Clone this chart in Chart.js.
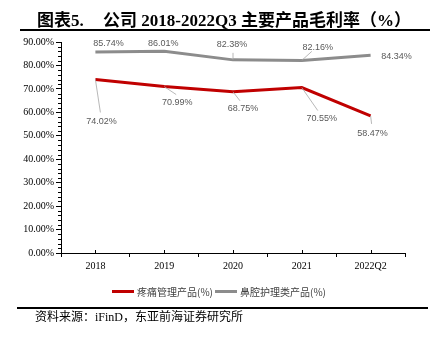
<!DOCTYPE html>
<html>
<head>
<meta charset="utf-8">
<script src="https://cdn.jsdelivr.net/npm/chart.js@4"></script>
<style>
  html, body { margin: 0; padding: 0; background: #fff; }
  #wrap { position: relative; width: 439px; height: 337px; overflow: hidden; background: #fff; }
  #c { position: absolute; left: 0; top: 0; }
  .t { position: absolute; white-space: nowrap; color: #000; }
  .title { font-family: "Liberation Serif", "Noto Sans CJK SC", serif; font-weight: bold; font-size: 17px; top: 6px; }
  .rule { position: absolute; background: #000; height: 1.5px; }
  .src { font-family: "Liberation Serif", "Noto Sans CJK SC", serif; font-size: 12px; left: 35px; top: 307px; }
  .lg-line { position: absolute; height: 3px; width: 22px; top: 290px; }
  .lg-text { position: absolute; font-family: "Noto Sans CJK SC", sans-serif; font-size: 10px; color: #404040; top: 284px; }
</style>
</head>
<body>
<div id="wrap">
  <canvas id="c" width="439" height="337"></canvas>
  <div class="t title" style="left:37px;">图表5.</div>
  <div class="t title" style="left:103px;">公司 2018-2022Q3 主要产品毛利率（%）</div>
  <div class="rule" style="left:20px; top:29px; width:410px;"></div>
  <div class="lg-line" style="left:112px; background:#C00000;"></div>
  <div class="lg-text" style="left:137px;" id="lg1"></div>
  <div class="lg-line" style="left:215px; background:#8C8C8C;"></div>
  <div class="lg-text" style="left:240px;" id="lg2"></div>
  <div class="rule" style="left:17px; top:307px; width:411px;"></div>
  <div class="t src">资料来源：iFinD，东亚前海证券研究所</div>
</div>
<script>
// ---- data ----
const categories = ['2018', '2019', '2020', '2021', '2022Q2'];
const painSeries = [74.02, 70.99, 68.75, 70.55, 58.47];
const nasalSeries = [85.74, 86.01, 82.38, 82.16, 84.34];
const seriesNames = ['疼痛管理产品(%)', '鼻腔护理类产品(%)'];
const yTickLabels = ['0.00%', '10.00%', '20.00%', '30.00%', '40.00%', '50.00%', '60.00%', '70.00%', '80.00%', '90.00%'];

document.getElementById('lg1').textContent = seriesNames[0];
document.getElementById('lg2').textContent = seriesNames[1];

// label placement styles (offsets from the point: label centre, leader end)
const labelStyle = [
  [ {dx:6, dy:42, lx:5, ly:33}, {dx:13, dy:16, lx:12, ly:8}, {dx:10, dy:17, lx:7, ly:9}, {dx:20, dy:31, lx:16, ly:23}, {dx:2, dy:18, lx:1, ly:8} ],
  [ {dx:13, dy:-8}, {dx:-1, dy:-8}, {dx:-1, dy:-15, lx:0, ly:-7}, {dx:16, dy:-13, lx:10, ly:-9}, {dx:26, dy:1} ]
];

const decor = {
  id: 'decor',
  afterDraw(chart) {
    const ctx = chart.ctx, x = chart.scales.x, y = chart.scales.y;
    ctx.save();
    ctx.strokeStyle = '#000';
    ctx.lineWidth = 1;
    ctx.beginPath();
    for (let v = 0; v <= 90; v += 2) {
      if (v % 10 === 0) continue;
      const py = Math.round(y.getPixelForValue(v)) + 0.5;
      ctx.moveTo(x.left - 3, py); ctx.lineTo(x.left, py);
    }
    categories.forEach((c, i) => {
      const px = Math.round(x.getPixelForValue(i)) + 0.5;
      ctx.moveTo(px, y.bottom); ctx.lineTo(px, y.bottom - 3);
    });
    ctx.stroke();
    ctx.restore();
  },
  afterDatasetsDraw(chart) {
    const ctx = chart.ctx;
    ctx.save();
    chart.data.datasets.forEach((ds, di) => {
      const meta = chart.getDatasetMeta(di);
      meta.data.forEach((pt, j) => {
        const s = labelStyle[di][j];
        if (s.lx !== undefined) {
          ctx.strokeStyle = '#A6A6A6';
          ctx.lineWidth = 0.8;
          ctx.beginPath();
          ctx.moveTo(pt.x, pt.y);
          ctx.lineTo(pt.x + s.lx, pt.y + s.ly);
          ctx.stroke();
        }
        ctx.fillStyle = '#595959';
        ctx.font = '9px "Liberation Sans", Arial, sans-serif';
        ctx.textAlign = 'center';
        ctx.textBaseline = 'middle';
        ctx.fillText(ds.data[j].toFixed(2) + '%', pt.x + s.dx, pt.y + s.dy);
      });
    });
    ctx.restore();
  }
};

new Chart(document.getElementById('c'), {
  type: 'line',
  data: {
    labels: categories,
    datasets: [
      { label: seriesNames[0], data: painSeries, borderColor: '#C00000', backgroundColor: '#C00000', borderWidth: 3, pointRadius: 0, tension: 0 },
      { label: seriesNames[1], data: nasalSeries, borderColor: '#8C8C8C', backgroundColor: '#8C8C8C', borderWidth: 3, pointRadius: 0, tension: 0 }
    ]
  },
  options: {
    responsive: false,
    animation: false,
    layout: { padding: { top: 42, left: 0, right: 34, bottom: 59 } },
    plugins: { legend: { display: false }, tooltip: { enabled: false } },
    scales: {
      x: {
        offset: true,
        afterFit(s) { s.height = 25; },
        grid: { display: true, offset: true, drawOnChartArea: false, tickLength: 4, color: '#000' },
        border: { display: true, color: '#000', width: 1 },
        ticks: { color: '#000', padding: 3, font: { family: '"Liberation Serif", serif', size: 10 }, maxRotation: 0 }
      },
      y: {
        min: 0, max: 90,
        afterFit(s) { s.width = 61; },
        grid: { display: true, drawOnChartArea: false, tickLength: 5, color: '#000' },
        border: { display: true, color: '#000', width: 1 },
        ticks: {
          stepSize: 10, color: '#000', padding: 2,
          font: { family: '"Liberation Serif", serif', size: 10 },
          callback: (v, i) => yTickLabels[i]
        }
      }
    }
  },
  plugins: [decor]
});
</script>
</body>
</html>
